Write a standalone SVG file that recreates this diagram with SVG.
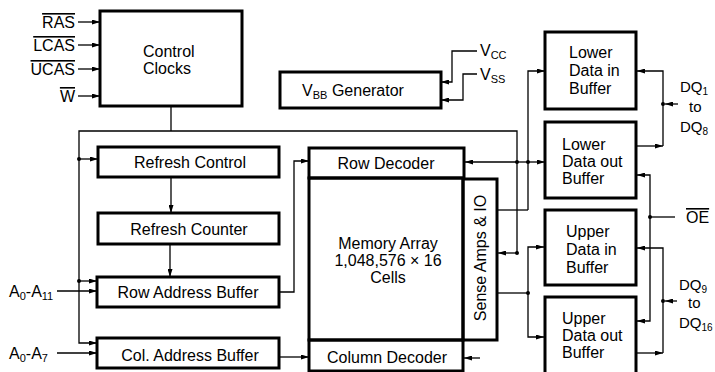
<svg xmlns="http://www.w3.org/2000/svg" width="715" height="372" viewBox="0 0 715 372">
<defs>
<style>
.box{fill:none;stroke:#000;stroke-width:3}
.wire{fill:none;stroke:#000;stroke-width:1.3}
.arr{marker-end:url(#ah)}
.dot{fill:#000}
text{font-family:"Liberation Sans",Arial,Helvetica,sans-serif;font-size:16px;fill:#000}
.m{text-anchor:middle}
.e{text-anchor:end}
.ov{text-decoration:overline}
.sub{font-size:11px}
.dq{font-size:15px}
.dq .sub{font-size:10px}
</style>
<marker id="ah" markerWidth="8" markerHeight="5" refX="8" refY="2.5" orient="auto" markerUnits="userSpaceOnUse"><path d="M0,0 L8,2.5 L0,5 z" fill="#000"/></marker>
</defs>
<rect width="715" height="372" fill="#fff"/>

<g id="connectors">
<path class="wire arr" d="M78,22 H100"/>
<path class="wire arr" d="M78,45 H100"/>
<path class="wire arr" d="M78,69 H100"/>
<path class="wire arr" d="M78,96 H100"/>
<path class="wire" d="M171,106 V131"/>
<path class="wire arr" d="M517,253 V131 H79 V343 H97"/>
<path class="wire arr" d="M79,159 H98"/>
<path class="wire arr" d="M79,281 H97"/>
<path class="wire arr" d="M57,291 H97"/>
<path class="wire arr" d="M57,353 H97"/>
<path class="wire arr" d="M171,177 V213"/>
<path class="wire arr" d="M170,244 V277"/>
<path class="wire arr" d="M279,292 H294 V161 H309"/>
<path class="wire arr" d="M279,357 H309"/>
<path class="wire arr" d="M477,51 H452 V82 H441"/>
<path class="wire arr" d="M477,74 H463 V100 H441"/>
<path class="wire arr" d="M517,162 H465"/>
<path class="wire arr" d="M517,162 H545"/>
<path class="wire arr" d="M528,210 V71 H545"/>
<path class="wire" d="M497,210 H528"/>
<path class="wire arr" d="M517,253 H498"/>
<path class="wire" d="M497,293 H528"/>
<path class="wire arr" d="M528,293 V247 H544"/>
<path class="wire arr" d="M528,293 V337 H544"/>
<path class="wire arr" d="M480,358 H464"/>
<path class="wire arr" d="M663,146 V71 H637"/>
<path class="wire arr" d="M637,146 H663"/>
<path class="wire arr" d="M678,104 H665"/>
<path class="wire arr" d="M650,217 V175 H637"/>
<path class="wire arr" d="M650,217 V321 H637"/>
<path class="wire" d="M650,217 H675"/>
<path class="wire arr" d="M663,301 V248 H637"/>
<path class="wire arr" d="M637,353 H663"/>
<path class="wire" d="M663,353 V301"/>
<path class="wire arr" d="M677,301 H665"/>
<circle class="dot" cx="79" cy="159" r="2"/>
<circle class="dot" cx="79" cy="281" r="2"/>
<circle class="dot" cx="517" cy="162" r="2"/>
<circle class="dot" cx="528" cy="162" r="2"/>
<circle class="dot" cx="517" cy="253" r="2"/>
<circle class="dot" cx="528" cy="293" r="2"/>
<circle class="dot" cx="663" cy="104" r="2"/>
<circle class="dot" cx="663" cy="301" r="2"/>
<circle class="dot" cx="650" cy="217" r="2"/>
</g>

<g id="control-clocks">
<rect class="box" x="100" y="11" width="142" height="95"/>
<text x="143" y="57">Control</text>
<text x="143" y="74">Clocks</text>
</g>
<g id="vbb-generator">
<rect class="box" x="280" y="72" width="161" height="36"/>
<text class="m" x="353" y="96">V<tspan class="sub" dy="3">BB</tspan><tspan dy="-3"> Generator</tspan></text>
</g>
<g id="lower-data-in">
<rect class="box" x="545" y="32" width="91" height="77"/>
<text x="569" y="58">Lower</text>
<text x="569" y="76">Data in</text>
<text x="569" y="94">Buffer</text>
</g>
<g id="lower-data-out">
<rect class="box" x="545" y="122" width="91" height="76"/>
<text x="562" y="150">Lower</text>
<text x="562" y="167">Data out</text>
<text x="562" y="184">Buffer</text>
</g>
<g id="upper-data-in">
<rect class="box" x="545" y="210" width="91" height="75"/>
<text x="566" y="237">Upper</text>
<text x="566" y="255">Data in</text>
<text x="566" y="273">Buffer</text>
</g>
<g id="upper-data-out">
<rect class="box" x="545" y="297" width="91" height="80"/>
<text x="562" y="324">Upper</text>
<text x="562" y="341">Data out</text>
<text x="562" y="358">Buffer</text>
</g>
<g id="refresh-control">
<rect class="box" x="98" y="147" width="181" height="30"/>
<text class="m" x="190" y="168">Refresh Control</text>
</g>
<g id="refresh-counter">
<rect class="box" x="98" y="213" width="181" height="31"/>
<text class="m" x="189" y="235">Refresh Counter</text>
</g>
<g id="row-address-buffer">
<rect class="box" x="97" y="277" width="182" height="30"/>
<text class="m" x="188" y="298">Row Address Buffer</text>
</g>
<g id="col-address-buffer">
<rect class="box" x="97" y="338" width="182" height="30"/>
<text class="m" x="190" y="361">Col. Address Buffer</text>
</g>
<g id="row-decoder">
<rect class="box" x="309" y="148" width="155" height="30"/>
<text class="m" x="386" y="169">Row Decoder</text>
</g>
<g id="memory-array">
<rect class="box" x="309" y="178" width="154" height="162"/>
<text class="m" x="388" y="249">Memory Array</text>
<text class="m" x="388" y="266">1,048,576 × 16</text>
<text class="m" x="388" y="283">Cells</text>
</g>
<g id="sense-amps">
<rect class="box" x="463" y="179" width="34" height="161"/>
<text class="m" transform="translate(486,258) rotate(-90)">Sense Amps &amp; IO</text>
</g>
<g id="column-decoder">
<rect class="box" x="309" y="340" width="154" height="31"/>
<text class="m" x="387" y="363">Column Decoder</text>
</g>

<g id="labels">
<text class="e ov" x="75" y="28">RAS</text>
<text class="e ov" x="75" y="51">LCAS</text>
<text class="e ov" x="75" y="75">UCAS</text>
<text class="e ov" x="75" y="102">W</text>
<text x="9" y="297">A<tspan class="sub" dy="3">0</tspan><tspan dy="-3">-A</tspan><tspan class="sub" dy="3">11</tspan></text>
<text x="9" y="359">A<tspan class="sub" dy="3">0</tspan><tspan dy="-3">-A</tspan><tspan class="sub" dy="3">7</tspan></text>
<text x="480" y="56">V<tspan class="sub" dy="3">CC</tspan></text>
<text x="480" y="80">V<tspan class="sub" dy="3">SS</tspan></text>
<text class="dq" x="680" y="92">DQ<tspan class="sub" dy="3">1</tspan></text>
<text class="dq" x="689" y="112">to</text>
<text class="dq" x="680" y="132">DQ<tspan class="sub" dy="3">8</tspan></text>
<text class="ov" x="686" y="223">OE</text>
<text class="dq" x="679" y="290">DQ<tspan class="sub" dy="3">9</tspan></text>
<text class="dq" x="688" y="308">to</text>
<text class="dq" x="679" y="328">DQ<tspan class="sub" dy="3">16</tspan></text>
</g>
</svg>
